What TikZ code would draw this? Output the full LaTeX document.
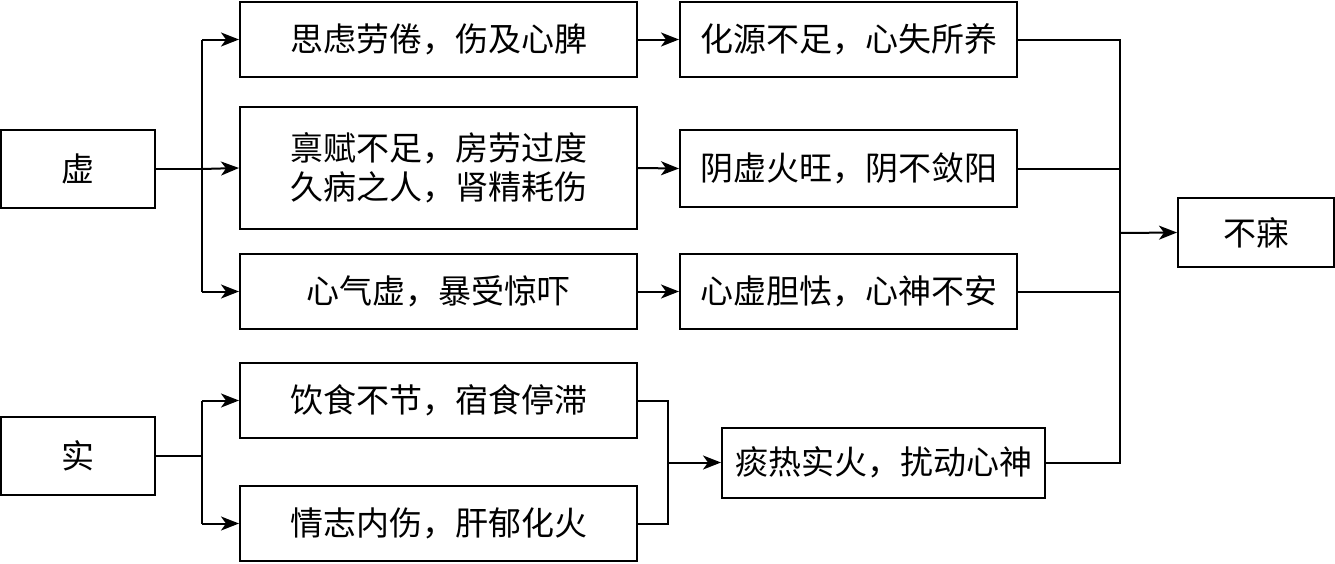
\documentclass[tikz,border=0pt]{standalone}
\usepackage{fontspec}
\newfontfamily\cjk{Noto Sans CJK SC}
\usetikzlibrary{arrows.meta}
\begin{document}
\begin{tikzpicture}[x=0.5pt,y=-0.5pt,
  box/.style={draw,line width=1pt,inner sep=0pt,align=center,
    font=\cjk\fontsize{16.5}{19.5}\selectfont},
  line/.style={line width=1pt},
  arr/.style={line width=1pt,-{Stealth[length=9pt,width=7pt,inset=2.5pt]}}]
\useasboundingbox (0,0) rectangle (1335,563);
\node[box,minimum width=77pt,minimum height=39pt] (xu) at (78,169) {虚};
\node[box,minimum width=77pt,minimum height=39pt] (shi) at (78,456) {实};
\node[box,minimum width=198.5pt,minimum height=37.5pt] (a1) at (438.5,39.5) {思虑劳倦，伤及心脾};
\node[box,minimum width=198.5pt,minimum height=61pt] (a2) at (438.5,168) {禀赋不足，房劳过度\\久病之人，肾精耗伤};
\node[box,minimum width=198.5pt,minimum height=37.5pt] (a3) at (438.5,291.5) {心气虚，暴受惊吓};
\node[box,minimum width=198.5pt,minimum height=37.5pt] (b1) at (438.5,400.5) {饮食不节，宿食停滞};
\node[box,minimum width=198.5pt,minimum height=37.5pt] (b2) at (438.5,523.5) {情志内伤，肝郁化火};
\node[box,minimum width=168.5pt,minimum height=37.5pt] (c1) at (848.5,39.5) {化源不足，心失所养};
\node[box,minimum width=168.5pt,minimum height=38.5pt] (c2) at (848.5,168.5) {阴虚火旺，阴不敛阳};
\node[box,minimum width=168.5pt,minimum height=37.5pt] (c3) at (848.5,291.5) {心虚胆怯，心神不安};
\node[box,minimum width=161.5pt,minimum height=35pt] (d) at (883.5,462.5) {痰热实火，扰动心神};
\node[box,minimum width=78pt,minimum height=34.5pt] (e) at (1256,232.5) {不寐};
\coordinate (j1) at (202,169);
\coordinate (j2) at (202,456);
\coordinate (j4) at (668,462.5);
\coordinate (j3) at (1120,233);
% 虚
\draw[line] (xu.east) -- (j1);
\draw[line] (j1 |- a1) -- (j1 |- a3);
\draw[arr] (j1 |- a1) -- (a1.west);
\draw[arr] (j1) -- (a2.west);
\draw[arr] (j1 |- a3) -- (a3.west);
% 实
\draw[line] (shi.east) -- (j2);
\draw[line] (j2 |- b1) -- (j2 |- b2);
\draw[arr] (j2 |- b1) -- (b1.west);
\draw[arr] (j2 |- b2) -- (b2.west);
% middle
\draw[arr] (a1.east) -- (c1.west);
\draw[arr] (a2.east) -- (c2.west);
\draw[arr] (a3.east) -- (c3.west);
\draw[line] (b1.east) -- (b1.east -| j4) -- (b2.east -| j4) -- (b2.east);
\draw[arr] (j4) -- (d.west);
% right
\draw[line] (c1.east) -- (c1.east -| j3) -- (d.east -| j3) -- (d.east);
\draw[line] (c2.east) -- (c2.east -| j3);
\draw[line] (c3.east) -- (c3.east -| j3);
\draw[arr] (j3) -- (e.west);
\end{tikzpicture}
\end{document}
